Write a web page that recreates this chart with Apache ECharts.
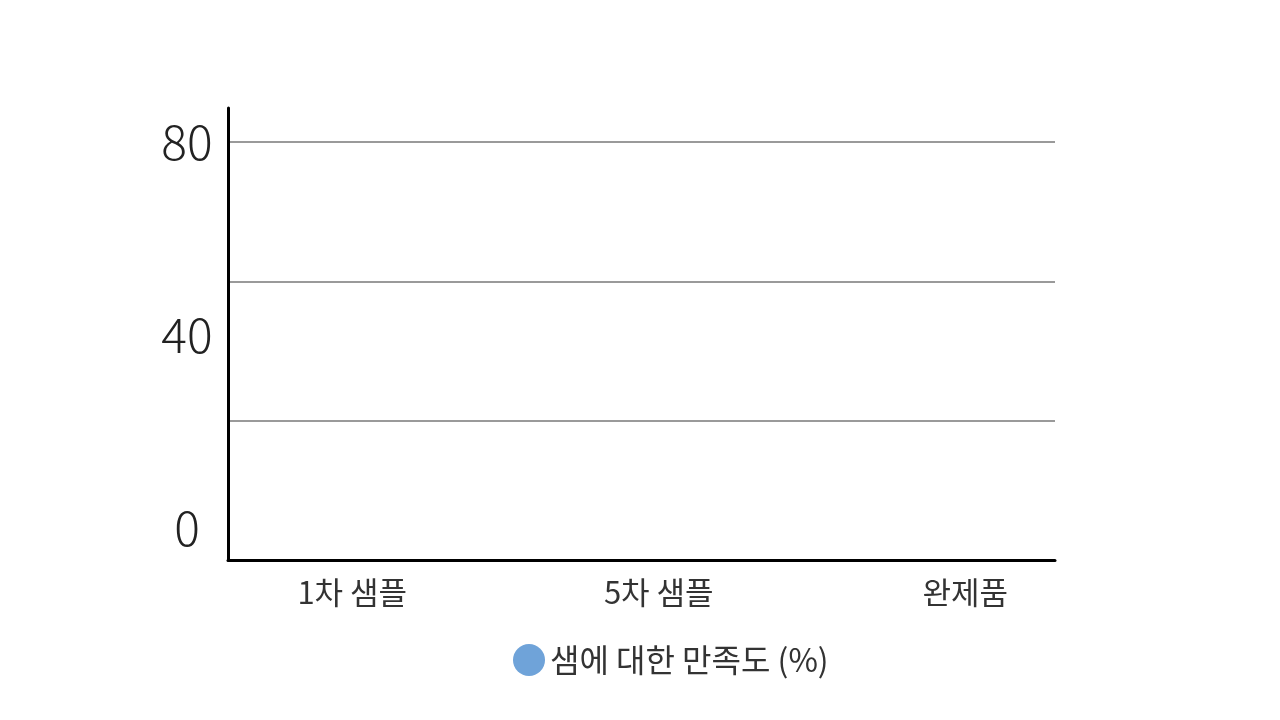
<!DOCTYPE html>
<html>
<head>
<meta charset="utf-8">
<script src="https://cdn.jsdelivr.net/npm/echarts@6/dist/echarts.min.js"></script>
<style>
html,body{margin:0;padding:0;background:#fff;}
#chart{width:1280px;height:720px;}
</style>
</head>
<body>
<div id="chart"></div>
<script>
const categories = ['1차 샘플', '5차 샘플', '완제품'];
const seriesName = '샘에 대한 만족도 (%)';
// No bars are visible in the reference frame
const satisfaction = [null, null, null];
const yTickValues = [0, 40, 80];

const chart = echarts.init(document.getElementById('chart'));
const digitFont = '"Noto Sans CJK KR", "Noto Sans", sans-serif';
const krFont = '"Noto Sans CJK KR", "Noto Sans", sans-serif';
const gridGray = '#9a9a9a';

chart.setOption({
  backgroundColor: '#ffffff',
  animation: false,
  grid: [
    { left: 228, right: 225, top: 108, bottom: 160 },
    { left: 199, right: 161.5, top: 142, bottom: 192 }
  ],
  legend: {
    data: [{ name: seriesName, icon: 'circle' }],
    left: 513,
    top: 644,
    padding: 0,
    itemWidth: 32,
    itemHeight: 32,
    textStyle: { fontSize: 32, color: '#333', fontFamily: krFont }
  },
  xAxis: [
    {
      gridIndex: 0,
      type: 'category',
      data: categories,
      axisLine: { show: true, lineStyle: { color: '#000', width: 3 } },
      axisTick: { show: false },
      axisLabel: { show: false }
    },
    {
      gridIndex: 1,
      type: 'category',
      data: categories,
      axisLine: { show: false },
      axisTick: { show: false },
      axisLabel: { show: true, margin: 49, fontSize: 31, color: '#333', fontFamily: krFont }
    }
  ],
  yAxis: [
    {
      gridIndex: 0,
      type: 'value',
      min: 0,
      max: 86.5,
      interval: 80 / 3,
      axisLine: { show: true, lineStyle: { color: '#000', width: 3 } },
      axisTick: { show: false },
      axisLabel: { show: false },
      splitLine: { show: true, lineStyle: { color: [gridGray, gridGray, gridGray, gridGray, 'rgba(0,0,0,0)'], width: 2 } }
    },
    {
      gridIndex: 1,
      type: 'value',
      min: yTickValues[0],
      max: yTickValues[yTickValues.length - 1],
      interval: 40,
      axisLine: { show: false },
      axisTick: { show: false },
      splitLine: { show: false },
      axisLabel: { show: true, margin: 12, align: 'center', fontSize: 48, fontWeight: 300, color: '#222', fontFamily: digitFont }
    }
  ],
  series: [
    {
      name: seriesName,
      type: 'bar',
      xAxisIndex: 1,
      yAxisIndex: 1,
      data: satisfaction,
      barWidth: 90,
      itemStyle: { color: '#6fa3d9' }
    }
  ]
});
</script>
</body>
</html>
